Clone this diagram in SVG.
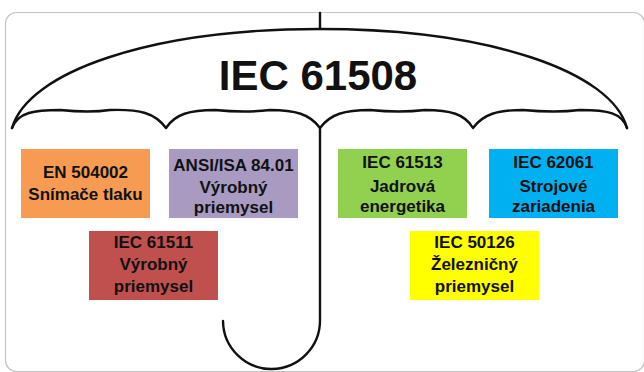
<svg xmlns="http://www.w3.org/2000/svg" width="644" height="372" viewBox="0 0 644 372">
<style>
.frame{fill:#fff;stroke:#c4c4c4;stroke-width:1.2}
.um{fill:none;stroke:#111;stroke-width:2.4;stroke-linecap:round;stroke-linejoin:round}
.title{font-family:"Liberation Sans",Arial,sans-serif;font-weight:bold;font-size:42px;fill:#111;text-anchor:middle}
.t{font-family:"Liberation Sans",Arial,sans-serif;font-weight:bold;font-size:17px;fill:#111;text-anchor:middle}
</style>
<rect class="frame" x="5.5" y="12.5" width="639" height="359" rx="11"/>
<g id="umbrella">
<path class="um" d="M320,13 V29"/>
<path class="um" d="M12,128 C28,72 150,29 320,29 C490,29 612,72 627,128"/>
<path class="um" d="M12,128 C18,112 35,110 60,110 Q90,113 110,110 C140,109 155,113 166,128 C175,114 190,110 215,110 Q245,113 270,110 C295,110 310,114 320,128 C330,114 345,110 370,110 Q400,113 425,110 C450,110 465,114 473,128 C483,114 498,110 523,110 Q555,113 580,110 C608,110 622,113 627,128"/>
<path class="um" d="M320,128 V320 A48.5,48.5 0 0 1 223,321"/>
</g>
<g id="title"><text class="title" x="318" y="90">IEC 61508</text></g>
<g id="en504002">
<rect x="21" y="149" width="129" height="69" fill="#F79B53"/>
<text class="t" x="85.5" y="178">EN 504002</text>
<text class="t" x="85.5" y="200">Snímače tlaku</text>
</g>
<g id="ansi">
<rect x="169" y="149" width="129" height="69" fill="#A99AC2"/>
<text class="t" x="233.5" y="171">ANSI/ISA 84.01</text>
<text class="t" x="233.5" y="193">Výrobný</text>
<text class="t" x="233.5" y="213">priemysel</text>
</g>
<g id="iec61511">
<rect x="89" y="231" width="129" height="69" fill="#C0504D"/>
<text class="t" x="153.5" y="248">IEC 61511</text>
<text class="t" x="153.5" y="270">Výrobný</text>
<text class="t" x="153.5" y="292">priemysel</text>
</g>
<g id="iec61513">
<rect x="338" y="149" width="129" height="69" fill="#92D050"/>
<text class="t" x="402.5" y="168">IEC 61513</text>
<text class="t" x="402.5" y="192">Jadrová</text>
<text class="t" x="402.5" y="212">energetika</text>
</g>
<g id="iec62061">
<rect x="489" y="149" width="129" height="69" fill="#00B0F0"/>
<text class="t" x="553.5" y="168">IEC 62061</text>
<text class="t" x="553.5" y="192">Strojové</text>
<text class="t" x="553.5" y="212">zariadenia</text>
</g>
<g id="iec50126">
<rect x="410" y="231" width="129" height="69" fill="#FFFF00"/>
<text class="t" x="474.5" y="248">IEC 50126</text>
<text class="t" x="474.5" y="270">Železničný</text>
<text class="t" x="474.5" y="292">priemysel</text>
</g>
</svg>
